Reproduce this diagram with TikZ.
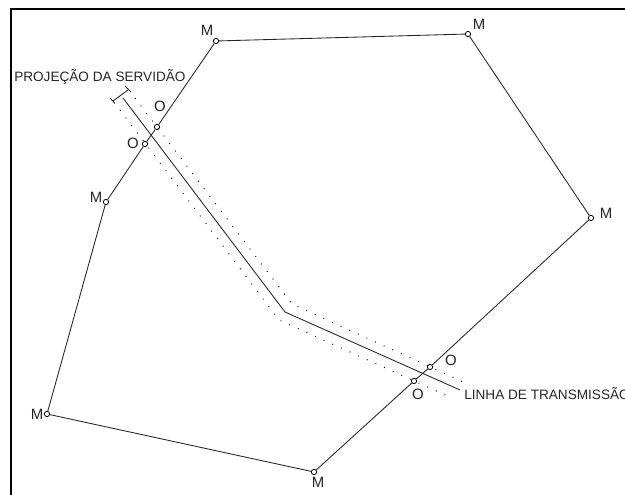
\documentclass[tikz,border=0pt]{standalone}
\usepackage{fontspec}
\setmainfont{Liberation Sans}
\tikzset{
  frameline/.style={line width=1.5pt,black},
  wire/.style={line width=0.65pt,black!85},
  dotline/.style={line width=0.7pt,black,dash pattern=on 0.7pt off 6.4pt},
  vertex/.style={circle,draw=black,line width=0.6pt,fill=none,minimum size=4pt,inner sep=0pt},
  lbl/.style={inner sep=0pt,font=\fontsize{11.2}{13}\selectfont,text=black!85},
  smalllbl/.style={inner sep=0pt,font=\fontsize{10.2}{12}\selectfont,text=black!85,anchor=base west}
}
\begin{document}
\begin{tikzpicture}[x=0.75pt,y=-0.75pt]
\useasboundingbox (0,0) rectangle (625,495);
\fill[white] (0,0) rectangle (625,495);
\coordinate (fa) at (11,495);
\coordinate (fb) at (11,9);
\coordinate (fc) at (625,9);
\draw[frameline] (fa) -- (fb) -- (fc);
% vertices
\node[vertex] (m1) at (216,41) {};
\node[vertex] (m2) at (468,34) {};
\node[vertex] (m3) at (591,218) {};
\node[vertex] (m4) at (314,472) {};
\node[vertex] (m5) at (47,414) {};
\node[vertex] (m6) at (106,202) {};
\node[vertex] (o1) at (157,127) {};
\node[vertex] (o2) at (145,144) {};
\node[vertex] (o3) at (430,367) {};
\node[vertex] (o4) at (414,381) {};
% polygon
\draw[wire] (m1) -- (m2);
\draw[wire] (m2) -- (m3);
\draw[wire] (m3) -- (o3);
\draw[wire] (o3) -- (o4);
\draw[wire] (o4) -- (m4);
\draw[wire] (m4) -- (m5);
\draw[wire] (m5) -- (m6);
\draw[wire] (m6) -- (o2);
\draw[wire] (o2) -- (o1);
\draw[wire] (o1) -- (m1);
% transmission line
\coordinate (ta) at (123,98);
\coordinate (tb) at (285,312);
\coordinate (tc) at (460,390);
\draw[wire] (ta) -- (tb) -- (tc);
% easement dotted
\coordinate (ua) at (135,98);
\coordinate (ub) at (292,304);
\coordinate (uc) at (470,385);
\coordinate (la) at (120,110);
\coordinate (lb) at (279,320);
\coordinate (lc) at (452,398);
\draw[dotline] (ua) -- (ub) -- (uc);
\draw[dotline] (la) -- (lb) -- (lc);
% width bar
\coordinate (ba) at (113,101);
\coordinate (bb) at (128,90);
\coordinate (ba1) at (110,98);
\coordinate (ba2) at (115,103.5);
\coordinate (bb1) at (125,86);
\coordinate (bb2) at (131,92);
\draw[wire] (ba) -- (bb);
\draw[wire] (ba1) -- (ba2);
\draw[wire] (bb1) -- (bb2);
% labels
\node[lbl] (lm1) at (207,30) {M};
\node[lbl] (lm2) at (479,24) {M};
\node[lbl] (lm3) at (606,213) {M};
\node[lbl] (lm4) at (318,482) {M};
\node[lbl] (lm5) at (37,414) {M};
\node[lbl] (lm6) at (96,197) {M};
\node[lbl] (lo1) at (160,106) {O};
\node[lbl] (lo2) at (133,143) {O};
\node[lbl] (lo3) at (451,360) {O};
\node[lbl] (lo4) at (418,394) {O};
\node[smalllbl] (lp) at (14,81.5) {PROJEÇÃO DA SERVIDÃO};
\begin{scope}
\clip (0,0) rectangle (625,495);
\node[smalllbl] (ll) at (464,399) {LINHA DE TRANSMISSÃO};
\end{scope}
\end{tikzpicture}
\end{document}
